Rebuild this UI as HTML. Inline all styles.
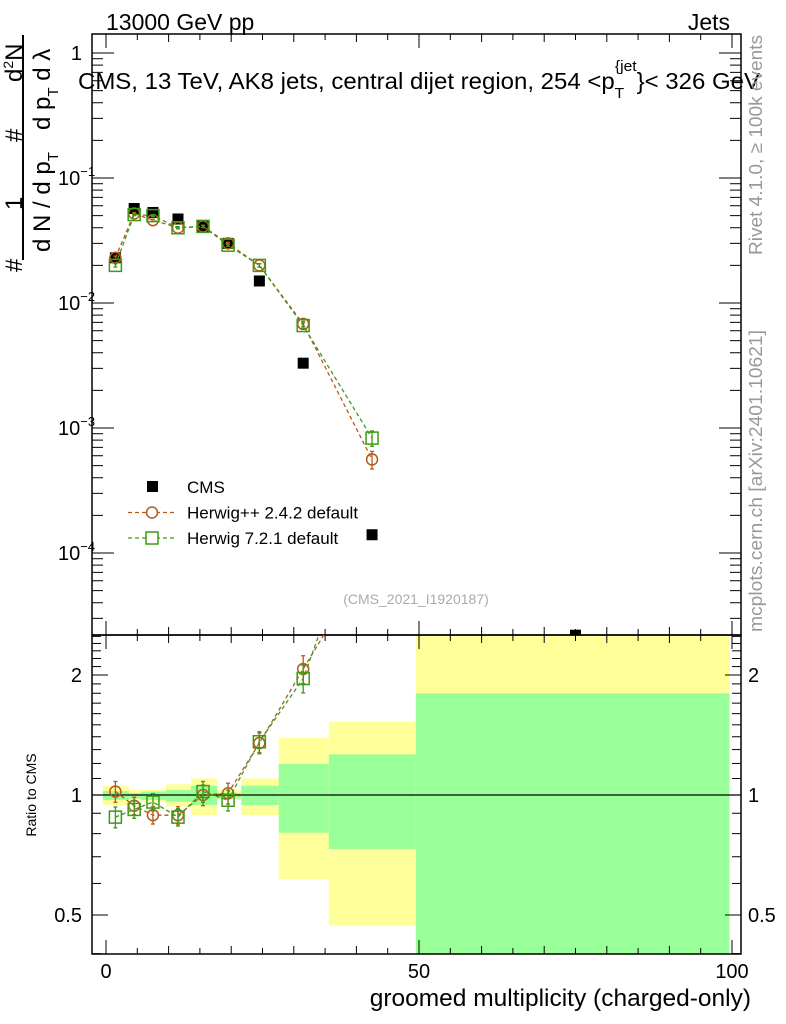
<!DOCTYPE html>
<html><head><meta charset="utf-8"><style>
body{margin:0;background:#fff;}
svg{display:block;font-family:"Liberation Sans",Arial,sans-serif;}
</style></head><body>
<svg id="c" width="786" height="1024" viewBox="0 0 786 1024" xmlns="http://www.w3.org/2000/svg">
<g id="bands"></g>
<g id="axes"></g>
<g id="marks"></g>
<text x="106" y="30" font-size="23">13000 GeV pp</text>
<text x="730" y="30" font-size="23" text-anchor="end">Jets</text>
<text x="78" y="89" font-size="23" textLength="682" lengthAdjust="spacingAndGlyphs">CMS, 13 TeV, AK8 jets, central dijet region, 254 &lt;p<tspan dy="9" font-size="15">T</tspan><tspan dy="-27" dx="-9" font-size="15">{jet</tspan><tspan dy="18">}&lt; 326 GeV</tspan></text>
<text transform="translate(762,255) rotate(-90)" font-size="18.5" fill="#999" textLength="220" lengthAdjust="spacingAndGlyphs">Rivet 4.1.0, ≥ 100k events</text>
<text transform="translate(762,632) rotate(-90)" font-size="18.5" fill="#999" textLength="302" lengthAdjust="spacingAndGlyphs">mcplots.cern.ch [arXiv:2401.10621]</text>
<text x="416" y="604" font-size="14" fill="#aaa" text-anchor="middle">(CMS_2021_I1920187)</text>
<g font-size="24">
<line x1="23" y1="35" x2="23" y2="260" stroke="#000" stroke-width="2"/>
<text transform="translate(22,272) rotate(-90)">#</text>
<text transform="translate(22,210) rotate(-90)">1</text>
<text transform="translate(22,142) rotate(-90)">#</text>
<text transform="translate(22,82) rotate(-90)">d<tspan font-size="14" dy="-9">2</tspan><tspan dy="9">N</tspan></text>
<text transform="translate(50,252) rotate(-90)">d N / d p<tspan font-size="15" dy="8">T</tspan></text>
<text transform="translate(50,130) rotate(-90)">d p<tspan font-size="15" dy="8">T</tspan><tspan dy="-8"> d λ</tspan></text>
</g>
<text transform="translate(36,795) rotate(-90)" font-size="14" text-anchor="middle">Ratio to CMS</text>
<text x="751" y="1006" font-size="24.5" text-anchor="end">groomed multiplicity (charged-only)</text>
<g id="legend"></g>
</svg>
<script>
const xs=[1.5,4.5,7.5,11.5,15.5,19.5,24.5,31.5,42.5,75];
const cms=[0.023,0.057,0.053,0.047,0.041,0.030,0.015,0.0033,0.00014,0.000022];
const hpp=[0.023,0.052,0.046,0.040,0.041,0.030,0.020,0.0068,0.00056];
const h7=[0.020,0.051,0.050,0.040,0.041,0.029,0.020,0.0066,0.00083];
const hppErr=[0.03,0.02,0.02,0.02,0.02,0.02,0.03,0.05,0.16];
const h7Err=[0.03,0.02,0.02,0.02,0.02,0.02,0.03,0.05,0.14];
const hppRatio=[1.02,0.94,0.89,0.89,1.00,1.01,1.35,2.07,4.0];
const h7Ratio=[0.88,0.92,0.96,0.88,1.02,0.97,1.36,1.96,5.9];
const ratioErr=[0.06,0.05,0.05,0.05,0.06,0.06,0.06,0.08,0.2];
const binEdges=[-0.5,3.7,5.6,9.6,13.6,17.8,21.6,27.6,35.6,49.5,99.6];
const yelHi=[1.053,1.03,1.03,1.064,1.10,1.03,1.10,1.39,1.53,3.0];
const yelLo=[0.944,0.972,0.962,0.935,0.89,0.972,0.89,0.615,0.47,0.3];
const grnHi=[1.023,1.01,1.02,1.03,1.055,1.013,1.055,1.196,1.265,1.80];
const grnLo=[0.972,0.98,0.972,0.962,0.944,0.98,0.944,0.804,0.732,0.3];
const xTicks=[0,50,100];
const NS="http://www.w3.org/2000/svg";
const L=92,R=741,T1=34,B1=635,B2=954;
const X=v=>106+v*6.26;
const Y1=v=>178-125*(Math.log10(v)+1);
const Y2=v=>795-398.6*Math.log10(v);
function mk(p,tag,at){const e=document.createElementNS(NS,tag);for(const k in at)e.setAttribute(k,at[k]);p.appendChild(e);return e;}
const bands=document.getElementById('bands'),axes=document.getElementById('axes'),marks=document.getElementById('marks'),leg=document.getElementById('legend');
const clip=mk(document.getElementById('c'),'clipPath',{id:'cp2'});mk(clip,'rect',{x:L,y:B1,width:R-L,height:B2-B1});
const clip1=mk(document.getElementById('c'),'clipPath',{id:'cp1'});mk(clip1,'rect',{x:L,y:T1,width:R-L,height:B1-T1});
bands.setAttribute('clip-path','url(#cp2)');
for(let i=0;i<yelHi.length;i++){
 const x0=X(binEdges[i]),w=X(binEdges[i+1])-x0;
 let r=mk(bands,'rect',{x:x0,y:Y2(yelHi[i]),width:w,height:Y2(yelLo[i])-Y2(yelHi[i]),fill:'#ffff99'});
 
 
 r=mk(bands,'rect',{x:x0,y:Y2(grnHi[i]),width:w,height:Y2(grnLo[i])-Y2(grnHi[i]),fill:'#99ff99'});
 
 
}
mk(axes,'rect',{x:L,y:T1,width:R-L,height:B1-T1,fill:'none',stroke:'#000','stroke-width':1.5});
mk(axes,'rect',{x:L,y:B1,width:R-L,height:B2-B1,fill:'none',stroke:'#000','stroke-width':1.5});
mk(axes,'line',{x1:L,y1:Y2(1),x2:R,y2:Y2(1),stroke:'#000','stroke-width':1.2});
for(let v=0;v<=100;v+=5){const x=X(v),l=(v%10==0)?(v%50==0?14:8):6;
 for(const [a,b] of [[T1,1],[B1,1],[B1,-1],[B2,-1]]) mk(axes,'line',{x1:x,y1:a,x2:x,y2:a+b*l,stroke:'#000'});}
xTicks.forEach(v=>{const t=mk(axes,'text',{x:X(v),y:978,'font-size':20,'text-anchor':'middle'});t.textContent=v;
 
 });
for(let d=-5;d<=0;d++)for(let m=1;m<10;m++){const v=m*Math.pow(10,d),y=Y1(v);if(y<T1||y>B1)continue;const l=m==1?22:11;
 mk(axes,'line',{x1:L,y1:y,x2:L+l,y2:y,stroke:'#000'});mk(axes,'line',{x1:R,y1:y,x2:R-l,y2:y,stroke:'#000'});}
[[0,'1'],[-1,'10'],[-2,'10'],[-3,'10'],[-4,'10']].forEach(([d,s])=>{const y=Y1(Math.pow(10,d))+7;
 const t=mk(axes,'text',{x:d==0?82:58,y:y,'font-size':20,'text-anchor':d==0?'end':'start'});t.textContent=s;
 if(d<0){const e=mk(t,'tspan',{dy:-9,'font-size':13});e.textContent='\u2212'+(-d);}
 
 });
[0.4,0.5,0.6,0.7,0.8,0.9,1,1.1,1.2,1.3,1.4,1.5,1.6,1.7,1.8,1.9,2,2.1,2.2,2.3,2.4,2.5].forEach(v=>{const y=Y2(v);if(y<B1||y>B2)return;
 const l=(Math.abs(v-1)<1e-9||Math.abs(v-2)<1e-9||Math.abs(v-0.5)<1e-9)?16:9;
 mk(axes,'line',{x1:L,y1:y,x2:L+l,y2:y,stroke:'#000'});mk(axes,'line',{x1:R,y1:y,x2:R-l,y2:y,stroke:'#000'});});
[[2,'2'],[1,'1'],[0.5,'0.5']].forEach(([v,s])=>{for(const [x,a] of [[82,'end'],[748,'start']]){
 const t=mk(axes,'text',{x:x,y:Y2(v)+7,'font-size':20,'text-anchor':a});t.textContent=s;
 
 }});
const colHpp='#b5591a',colH7='#3c9a14';
function series(vals,errs,Y,col,shape,cp,name){
 const g=mk(marks,'g',{'clip-path':'url(#'+cp+')'});
 
 
 const pts=vals.map((v,i)=>X(xs[i])+','+Y(v)).join(' ');
 mk(g,'polyline',{points:pts,fill:'none',stroke:col,'stroke-width':1.3,'stroke-dasharray':'4,3'});
 vals.forEach((v,i)=>{const x=X(xs[i]),y=Y(v),yt=Y(v*(1+errs[i])),yb=Y(v*(1-errs[i]));
  mk(g,'line',{x1:x,y1:yt,x2:x,y2:yb,stroke:col,'stroke-width':1.3});
  mk(g,'line',{x1:x-2,y1:yt,x2:x+2,y2:yt,stroke:col,'stroke-width':1.3});
  mk(g,'line',{x1:x-2,y1:yb,x2:x+2,y2:yb,stroke:col,'stroke-width':1.3});
  let m;if(shape=='o')m=mk(g,'circle',{cx:x,cy:y,r:5.5,fill:'none',stroke:col,'stroke-width':1.5});
  else m=mk(g,'rect',{x:x-6,y:y-6,width:12,height:12,fill:'none',stroke:col,'stroke-width':1.5});
  
  });
}
const gc=mk(marks,'g',{'clip-path':'url(#cp1)'});


cms.forEach((v,i)=>{const r=mk(gc,'rect',{x:X(xs[i])-5.5,y:Y1(v)-5.5,width:11,height:11,fill:'#000'});
 
 });
series(hpp,hppErr,Y1,colHpp,'o','cp1','herwigpp-series');
series(h7,h7Err,Y1,colH7,'s','cp1','herwig7-series');
series(hppRatio,ratioErr,Y2,colHpp,'o','cp2','herwigpp-ratio');
series(h7Ratio,ratioErr,Y2,colH7,'s','cp2','herwig7-ratio');
const entries=[['CMS','k'],['Herwig++ 2.4.2 default','o'],['Herwig 7.2.1 default','s']];
entries.forEach(([s,t],i)=>{const y=487+i*25.5;
 const g=mk(leg,'g',{});
 
 
 if(t=='k')mk(g,'rect',{x:147,y:y-6,width:11,height:11,fill:'#000'});
 else{const col=t=='o'?colHpp:colH7;mk(g,'line',{x1:128,y1:y,x2:176,y2:y,stroke:col,'stroke-width':1.2,'stroke-dasharray':'4,3'});
  if(t=='o')mk(g,'circle',{cx:152,cy:y,r:5.5,fill:'#fff',stroke:col,'stroke-width':1.5});
  else mk(g,'rect',{x:146,y:y-6,width:12,height:12,fill:'#fff',stroke:col,'stroke-width':1.5});}
 const tx=mk(g,'text',{x:187,y:y+6,'font-size':17});tx.textContent=s;});
</script>
</body></html>
